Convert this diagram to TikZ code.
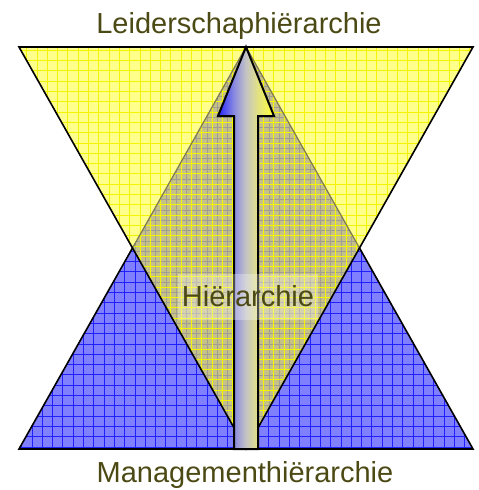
\documentclass[tikz,border=0pt]{standalone}
\usepackage{fontspec}
\setmainfont{Liberation Sans}
\definecolor{bluefill}{HTML}{8080FF}
\definecolor{bluegrid}{HTML}{2020FF}
\definecolor{yelfill}{HTML}{FFFF8C}
\definecolor{yelgrid}{HTML}{F4F400}
\definecolor{olivefill}{HTML}{C6C186}
\definecolor{olivegrid}{HTML}{A09D92}
\definecolor{dimedge}{HTML}{7E7A50}
\definecolor{txt}{HTML}{4C4A14}
\definecolor{arrowblue}{HTML}{2525FF}
\definecolor{shaftblue}{HTML}{8A8AE0}
\definecolor{arrowmid}{HTML}{C4C4C4}
\definecolor{shaftyel}{HTML}{E2E282}
\definecolor{arrowyel}{HTML}{FFFF35}
\pgfdeclarehorizontalshading{arrowshade}{100bp}{color(0bp)=(arrowblue); color(25bp)=(arrowblue); color(39.3bp)=(shaftblue); color(50bp)=(arrowmid); color(60.7bp)=(shaftyel); color(75bp)=(arrowyel); color(100bp)=(arrowyel)}
\tikzset{
  label text/.style={text=txt, font=\fontsize{29}{32}\selectfont, anchor=base, inner sep=0pt},
  outline/.style={draw=black, line width=1.6pt, line join=miter},
  gridline/.style={line width=0.65pt},
}
\begin{document}
\begin{tikzpicture}[x=1pt,y=-1pt]
\useasboundingbox (0,0) rectangle (479,490);
% key points
\coordinate (BL) at (19,449);
\coordinate (BR) at (473,449);
\coordinate (BT) at (246,47);
\coordinate (YL) at (19,47);
\coordinate (YR) at (473,47);
\coordinate (YB) at (246,449);
\coordinate (CL) at (132.5,248);
\coordinate (CR) at (359.5,248);
% blue triangle
\fill[bluefill] (BL) -- (BT) -- (BR) -- cycle;
\begin{scope}
  \clip (BL) -- (BT) -- (BR) -- cycle;
  \foreach \i in {0,...,47} {
    \draw[bluegrid, gridline] (\i*10.3+1,0) -- (\i*10.3+1,490);
    \draw[bluegrid, gridline] (0,\i*10.3+4) -- (479,\i*10.3+4);
  }
\end{scope}
% yellow triangle
\fill[yelfill] (YL) -- (YR) -- (YB) -- cycle;
\fill[olivefill] (BT) -- (CL) -- (YB) -- (CR) -- cycle;
\begin{scope}
  \clip (BT) -- (CL) -- (YB) -- (CR) -- cycle;
  \foreach \i in {0,...,47} {
    \draw[olivegrid, line width=0.5pt] (\i*10.3+1,0) -- (\i*10.3+1,490);
    \draw[olivegrid, line width=0.5pt] (0,\i*10.3+4) -- (479,\i*10.3+4);
  }
\end{scope}
\begin{scope}
  \clip (YL) -- (YR) -- (YB) -- cycle;
  \foreach \i in {0,...,47} {
    \draw[yelgrid, gridline] (\i*10.3+6,0) -- (\i*10.3+6,490);
    \draw[yelgrid, gridline] (0,\i*10.3+9) -- (479,\i*10.3+9);
  }
\end{scope}
% outlines
\draw[dimedge, line width=1.2pt] (CL) -- (BT) -- (CR);
\draw[outline] (CL) -- (BL) -- (BR) -- (CR);
\draw[outline] (YL) -- (YR) -- (YB) -- cycle;
% arrow
\shade[shading=arrowshade, draw=black, line width=2pt, line join=miter]
  (234,449) -- (234,116) -- (218,116) -- (246,47) -- (274,116) -- (258,116) -- (258,449) -- cycle;
% label backdrop
\fill[white, opacity=0.3] (178,274) rectangle (318,320);
% labels
\node[label text] (top) at (239,33) {Leiderschaphiërarchie};
\node[label text] (mid) at (248,306) {Hiërarchie};
\node[label text] (bottom) at (245,482) {Managementhiërarchie};
\end{tikzpicture}
\end{document}
